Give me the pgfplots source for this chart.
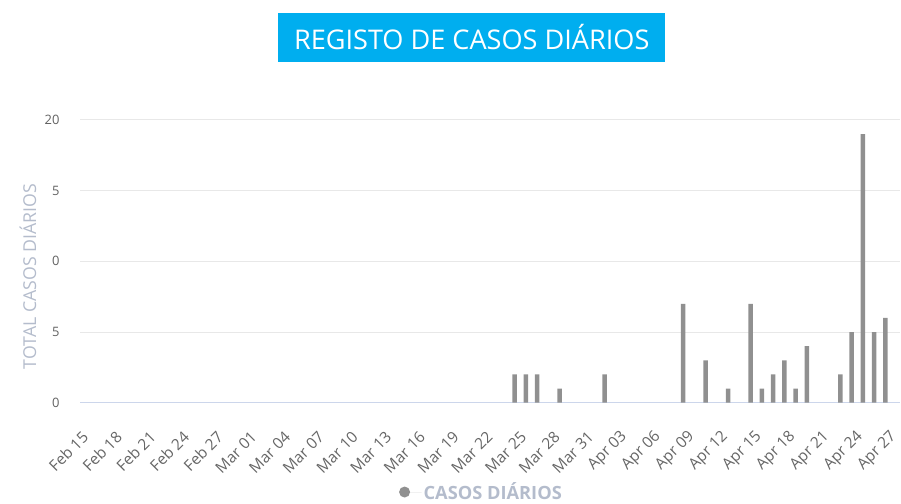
\documentclass[border=0pt]{standalone}
\usepackage{pgfplots}
\pgfplotsset{compat=1.18}
\usepackage{fontspec}
\setmainfont{Open Sans}
\definecolor{titlebg}{RGB}{0,174,239}
\definecolor{bargray}{RGB}{144,144,144}
\definecolor{gridc}{RGB}{232,232,232}
\definecolor{axisc}{RGB}{204,214,235}
\definecolor{tickc}{RGB}{102,102,102}
\definecolor{labc}{RGB}{180,188,204}
\begin{document}
\begin{tikzpicture}
\path[use as bounding box] (0,0) rectangle (901bp,504bp);
\node[fill=titlebg, minimum width=387bp, minimum height=49bp, inner sep=0pt, text=white,
      font=\fontsize{27.2}{30}\selectfont] at (471.7bp,466.5bp) {REGISTO DE CASOS DIÁRIOS};
\begin{axis}[
  at={(80bp,101.3bp)}, anchor=south west,
  scale only axis, width=820bp, height=282.7bp,
  xmin=-0.7, xmax=72.3, ymin=0, ymax=20,
  axis x line*=bottom, axis y line*=left,
  x axis line style={-, draw=axisc, line width=1bp},
  y axis line style={draw=none},
  tick style={draw=none},
  ymajorgrids, grid style={gridc, line width=1bp},
  ytick={0,5,10,15,20}, yticklabels={0,5,0,5,20},
  yticklabel style={font=\fontsize{13}{15}\selectfont, text=tickc!95!black, xshift=-17bp},
  xtick={0,3,...,72},
  xticklabels={Feb 15,Feb 18,Feb 21,Feb 24,Feb 27,Mar 01,Mar 04,Mar 07,Mar 10,Mar 13,Mar 16,Mar 19,Mar 22,Mar 25,Mar 28,Mar 31,Apr 03,Apr 06,Apr 09,Apr 12,Apr 15,Apr 18,Apr 21,Apr 24,Apr 27},
  xticklabel style={font=\fontsize{15.5}{17}\selectfont, text=tickc, rotate=45, anchor=east, yshift=-20.7bp, xshift=-20.8bp},
  ylabel={TOTAL CASOS DIÁRIOS},
  every axis y label/.style={at={(axis description cs:-0.0634,0.446)}, rotate=90, anchor=center,
    font=\fontsize{17.8}{19}\selectfont, text=labc},
  legend style={draw=none, fill=none, at={(axis description cs:0.4896,-0.316)}, anchor=center,
    font=\bfseries\fontsize{18.3}{20}\selectfont, text=labc},
]
\addplot[ybar, bar width=4.5bp, fill=bargray, draw=none,
  legend image code/.code={\fill[bargray] (0bp,0bp) circle (5.5bp); \path (-5.5bp,0bp) -- (17bp,0bp);}]
  coordinates {
  (38,2) (39,2) (40,2) (42,1) (46,2) (53,7) (55,3) (57,1) (59,7) (60,1)
  (61,2) (62,3) (63,1) (64,4) (67,2) (68,5) (69,19) (70,5) (71,6)
  };
\addlegendentry{CASOS DIÁRIOS}
\end{axis}
\end{tikzpicture}
\end{document}
